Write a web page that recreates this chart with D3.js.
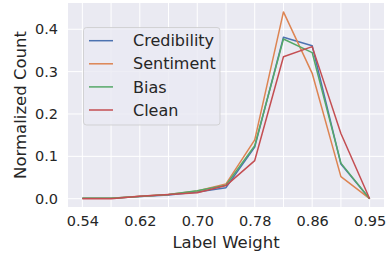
<!DOCTYPE html>
<html>
<head>
<meta charset="utf-8">
<script src="https://cdn.jsdelivr.net/npm/d3@7"></script>
<style>
  body { margin: 0; background: #fff; }
  svg { display: block; font-family: "DejaVu Sans", sans-serif; }
</style>
</head>
<body>
<svg id="chart" width="390" height="254"></svg>
<script>
// x categories (label weight bins) and the ones that get a tick label
var categories = ["0.54", "0.58", "0.62", "0.66", "0.70", "0.74", "0.78", "0.82", "0.86", "0.90", "0.95"];
var tickLabels = ["0.54", "0.62", "0.70", "0.78", "0.86", "0.95"];
var yTicks = [0.0, 0.1, 0.2, 0.3, 0.4];

var seriesNames = ["Credibility", "Sentiment", "Bias", "Clean"];
var credibility = [0.001, 0.001, 0.005, 0.009, 0.016, 0.026, 0.122, 0.381, 0.361, 0.082, 0.0];
var sentiment   = [0.001, 0.001, 0.006, 0.010, 0.018, 0.035, 0.139, 0.441, 0.296, 0.052, 0.0];
var bias        = [0.001, 0.001, 0.005, 0.010, 0.019, 0.032, 0.125, 0.377, 0.345, 0.084, 0.0];
var clean       = [0.000, 0.000, 0.006, 0.010, 0.014, 0.031, 0.090, 0.335, 0.359, 0.154, 0.0];
var colors = ["#4c72b0", "#dd8452", "#55a868", "#c44e52"];

var series = [credibility, sentiment, bias, clean].map(function(vals, i) {
  return { name: seriesNames[i], color: colors[i], values: vals };
});

var svg = d3.select("#chart");
var plotL = 68, plotR = 384, plotT = 3, plotB = 207;

var x = d3.scalePoint().domain(categories).range([plotL, plotR]).padding(0.5);
var y = d3.scaleLinear().domain([-0.0196, 0.462]).range([plotB, plotT]);

// background
svg.append("rect")
  .attr("x", plotL).attr("y", plotT)
  .attr("width", plotR - plotL).attr("height", plotB - plotT)
  .attr("fill", "#eaeaf2");

// grid
svg.append("g").selectAll("line")
  .data(categories).enter().append("line")
  .attr("x1", function(d) { return x(d); }).attr("x2", function(d) { return x(d); })
  .attr("y1", plotT).attr("y2", plotB)
  .attr("stroke", "#fff").attr("stroke-width", 1);
svg.append("g").selectAll("line")
  .data(yTicks).enter().append("line")
  .attr("x1", plotL).attr("x2", plotR)
  .attr("y1", function(d) { return y(d); }).attr("y2", function(d) { return y(d); })
  .attr("stroke", "#fff").attr("stroke-width", 1);

// axes (labels only, seaborn darkgrid has no tick marks)
var xAxis = svg.append("g")
  .attr("transform", "translate(0," + plotB + ")")
  .call(d3.axisBottom(x).tickValues(tickLabels).tickSize(0).tickPadding(9));
xAxis.select(".domain").remove();
xAxis.selectAll("text").attr("font-size", "14.5px").attr("fill", "#262626")
  .attr("font-family", "DejaVu Sans");

var yAxis = svg.append("g")
  .attr("transform", "translate(" + plotL + ",0)")
  .call(d3.axisLeft(y).tickValues(yTicks).tickFormat(d3.format(".1f")).tickSize(0).tickPadding(10));
yAxis.select(".domain").remove();
yAxis.selectAll("text").attr("font-size", "14.5px").attr("fill", "#262626")
  .attr("font-family", "DejaVu Sans");

// axis titles
svg.append("text")
  .attr("x", (plotL + plotR) / 2).attr("y", 247.5)
  .attr("text-anchor", "middle")
  .attr("font-size", "16.5px").attr("fill", "#262626")
  .text("Label Weight");
svg.append("text")
  .attr("transform", "translate(26," + (plotT + plotB) / 2 + ") rotate(-90)")
  .attr("text-anchor", "middle")
  .attr("font-size", "16.5px").attr("fill", "#262626")
  .text("Normalized Count");

// lines
var line = d3.line()
  .x(function(d, i) { return x(categories[i]); })
  .y(function(d) { return y(d); });

svg.append("g").selectAll("path")
  .data(series).enter().append("path")
  .attr("d", function(d) { return line(d.values); })
  .attr("fill", "none")
  .attr("stroke", function(d) { return d.color; })
  .attr("stroke-width", 1.5)
  .attr("stroke-linejoin", "round");

// legend
var lg = svg.append("g");
lg.append("rect")
  .attr("x", 83.5).attr("y", 27.5)
  .attr("width", 136.5).attr("height", 97.5)
  .attr("rx", 3)
  .attr("fill", "#eaeaf2").attr("fill-opacity", 0.8)
  .attr("stroke", "#cccccc").attr("stroke-opacity", 0.8);

var items = lg.selectAll("g")
  .data(series).enter().append("g")
  .attr("transform", function(d, i) { return "translate(0," + (40.7 + i * 23.1) + ")"; });
items.append("line")
  .attr("x1", 89).attr("x2", 113)
  .attr("stroke", function(d) { return d.color; })
  .attr("stroke-width", 1.5);
items.append("text")
  .attr("x", 133).attr("dy", "0.35em")
  .attr("font-size", "16px").attr("fill", "#262626")
  .text(function(d) { return d.name; });
</script>
</body>
</html>
